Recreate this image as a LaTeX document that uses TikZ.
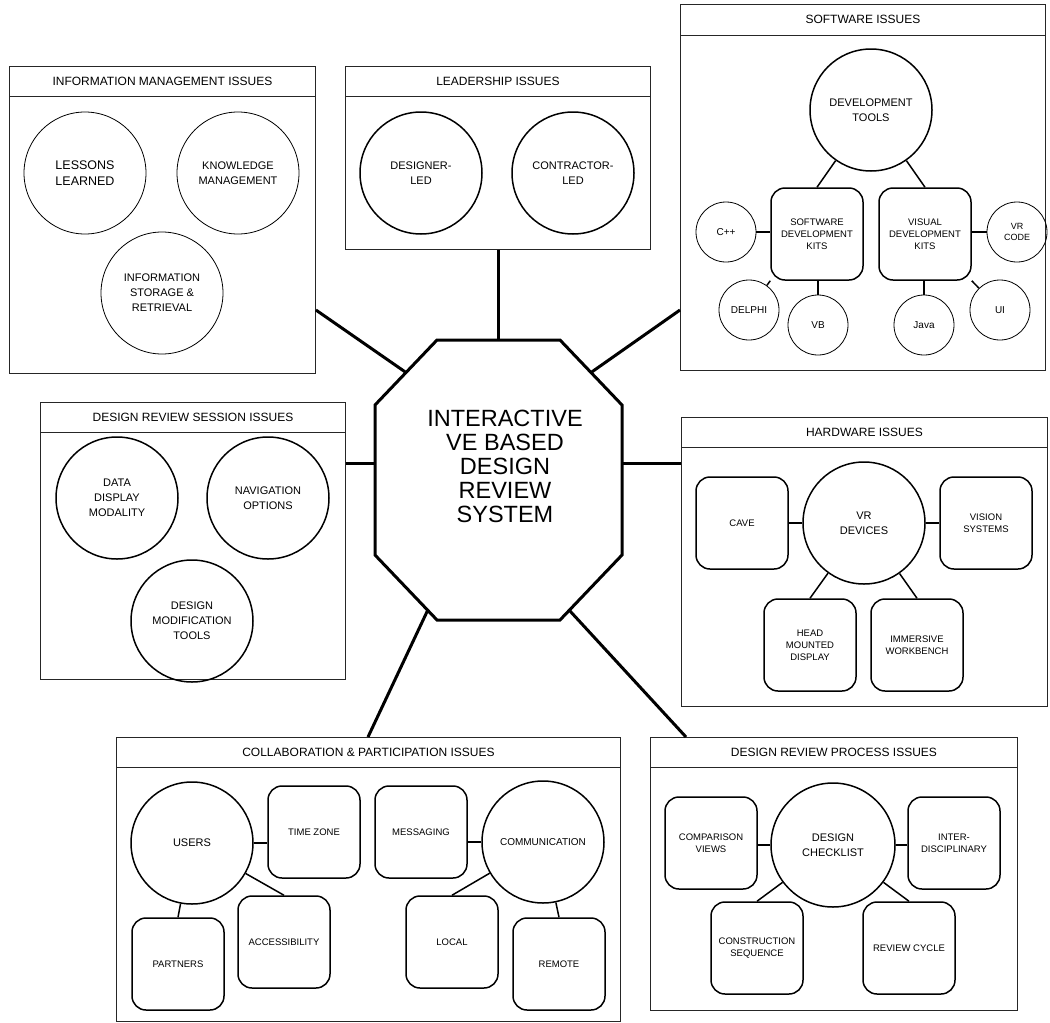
\documentclass[tikz,border=0pt]{standalone}
\usepackage{fontspec}
\setmainfont{Liberation Sans}
\usetikzlibrary{calc}
\begin{document}
\begin{tikzpicture}[x=1pt,y=-1pt,
  panelbox/.style={draw=black!85, line width=0.9pt, anchor=north west, inner sep=0pt},
  hdrline/.style={draw=black!85, line width=0.9pt},
  hdr/.style={font=\fontsize{12}{14}\selectfont, inner sep=0pt},
  bub/.style={circle, draw, line width=1.5pt, minimum size=122pt, inner sep=0pt, align=center, font=\fontsize{11}{15}\selectfont},
  thinbub/.style={bub, line width=0.8pt},
  smallbub/.style={circle, draw, line width=0.8pt, minimum size=60pt, inner sep=0pt, align=center, font=\fontsize{10}{12}\selectfont},
  rbox/.style={draw, rounded corners=14pt, line width=1.5pt, minimum width=92pt, minimum height=92pt, inner sep=2pt, align=center, font=\fontsize{9.5}{12}\selectfont},
  link/.style={line width=1.5pt},
  spoke/.style={line width=3pt}]

\useasboundingbox[fill=white] (0,0) rectangle (1050,1023);

% ---------- central octagon ----------
\coordinate (A) at (437,340);
\coordinate (B) at (560,340);
\coordinate (C) at (622,405);
\coordinate (D) at (622,555);
\coordinate (E) at (560,620);
\coordinate (F) at (437,620);
\coordinate (G) at (375,555);
\coordinate (H) at (375,405);
\draw[line width=3pt, line join=miter] (A) -- (B) -- (C) -- (D) -- (E) -- (F) -- (G) -- (H) -- cycle;
\node[align=center, font=\fontsize{23.5}{24}\selectfont, inner sep=0pt] (hub) at (505,466)
  {INTERACTIVE\\VE BASED\\DESIGN\\REVIEW\\SYSTEM};

\coordinate (o1) at ($(H)!0.5!(A)$);
\coordinate (o2) at ($(A)!0.5!(B)$);
\coordinate (o3) at ($(B)!0.5!(C)$);
\coordinate (o4) at (375,463);
\coordinate (o5) at (622,463);
\coordinate (o6) at ($(G)!0.85!(F)$);
\coordinate (o7) at ($(D)!0.85!(E)$);

% ---------- panel 1: information management ----------
\node[panelbox, minimum width=306pt, minimum height=307pt] (p1) at (9,66) {};
\draw[hdrline] ($(p1.north west)+(0,30)$) -- ($(p1.north east)+(0,30)$);
\node[hdr] (p1t) at ($(p1.north)+(0,15)$) {INFORMATION MANAGEMENT ISSUES};
\node[thinbub, font=\fontsize{12.5}{16}\selectfont] (les) at (85,173) {LESSONS\\LEARNED};
\node[thinbub] (know) at (238,173) {KNOWLEDGE\\MANAGEMENT};
\node[thinbub] (stor) at (162,293) {INFORMATION\\STORAGE \&\\RETRIEVAL};

% ---------- panel 2: leadership ----------
\node[panelbox, minimum width=305pt, minimum height=183pt] (p2) at (345,66) {};
\draw[hdrline] ($(p2.north west)+(0,30)$) -- ($(p2.north east)+(0,30)$);
\node[hdr] (p2t) at ($(p2.north)+(0,15)$) {LEADERSHIP ISSUES};
\node[bub] (dled) at (421,173) {DESIGNER-\\LED};
\node[bub] (cled) at (573,173) {CONTRACTOR-\\LED};

% ---------- panel 3: software ----------
\node[panelbox, minimum width=365pt, minimum height=366pt] (p3) at (680,4) {};
\draw[hdrline] ($(p3.north west)+(0,31)$) -- ($(p3.north east)+(0,31)$);
\node[hdr] (p3t) at ($(p3.north)+(0,15)$) {SOFTWARE ISSUES};
\node[bub] (dev) at (871,110) {DEVELOPMENT\\TOOLS};
\node[rbox] (sdk) at (817,234) {SOFTWARE\\DEVELOPMENT\\KITS};
\node[rbox] (vdk) at (925,234) {VISUAL\\DEVELOPMENT\\KITS};
\node[smallbub] (cpp) at (726,232) {C++};
\node[smallbub] (delphi) at (749,310) {DELPHI};
\node[smallbub] (vb) at (818,325) {VB};
\node[smallbub] (java) at (924,325) {Java};
\node[smallbub] (ui) at (1000,310) {UI};
\node[smallbub, font=\fontsize{9}{11}\selectfont] (vrc) at (1017,232) {VR\\CODE};
\draw[link] (dev) -- (sdk.north);
\draw[link] (dev) -- (vdk.north);
\draw[link] (cpp.east) -- (cpp.east -| sdk.west);
\draw[link] (delphi) -- (sdk.south west);
\draw[link] (vb) -- (vb |- sdk.south);
\draw[link] (java) -- (java |- vdk.south);
\draw[link] (ui) -- (vdk.south east);
\draw[link] (vrc.west) -- (vrc.west -| vdk.east);

% ---------- panel 4: design review session ----------
\node[panelbox, minimum width=305pt, minimum height=277pt] (p4) at (40,402) {};
\draw[hdrline] ($(p4.north west)+(0,30)$) -- ($(p4.north east)+(0,30)$);
\node[hdr] (p4t) at ($(p4.north)+(0,15)$) {DESIGN REVIEW SESSION ISSUES};
\node[bub] (disp) at (117,498) {DATA\\DISPLAY\\MODALITY};
\node[bub] (nav) at (268,498) {NAVIGATION\\OPTIONS};
\node[bub] (mod) at (192,621) {DESIGN\\MODIFICATION\\TOOLS};

% ---------- panel 5: hardware ----------
\node[panelbox, minimum width=366pt, minimum height=289pt] (p5) at (681,417) {};
\draw[hdrline] ($(p5.north west)+(0,30)$) -- ($(p5.north east)+(0,30)$);
\node[hdr] (p5t) at ($(p5.north)+(0,15)$) {HARDWARE ISSUES};
\node[bub] (vrd) at (864,523) {VR\\DEVICES};
\node[rbox] (cave) at (742,523) {CAVE};
\node[rbox] (vis) at (986,523) {VISION\\SYSTEMS};
\node[rbox] (hmd) at (810,645) {HEAD\\MOUNTED\\DISPLAY};
\node[rbox] (wb) at (917,645) {IMMERSIVE\\WORKBENCH};
\draw[link] (vrd.west) -- (vrd.west -| cave.east);
\draw[link] (vrd.east) -- (vrd.east -| vis.west);
\draw[link] (vrd) -- (hmd.north);
\draw[link] (vrd) -- (wb.north);

% ---------- panel 6: collaboration ----------
\node[panelbox, minimum width=504pt, minimum height=284pt] (p6) at (116,737) {};
\draw[hdrline] ($(p6.north west)+(0,30)$) -- ($(p6.north east)+(0,30)$);
\node[hdr] (p6t) at ($(p6.north)+(0,15)$) {COLLABORATION \& PARTICIPATION ISSUES};
\node[bub] (users) at (192,843) {USERS};
\node[rbox] (tz) at (314,832) {TIME ZONE};
\node[rbox] (acc) at (284,942) {ACCESSIBILITY};
\node[rbox] (part) at (178,964) {PARTNERS};
\node[bub, font=\fontsize{10}{12}\selectfont] (comm) at (543,842) {COMMUNICATION};
\node[rbox] (msg) at (421,832) {MESSAGING};
\node[rbox] (loc) at (452,942) {LOCAL};
\node[rbox] (rem) at (559,964) {REMOTE};
\draw[link] (users.east) -- (users.east -| tz.west);
\draw[link] (users) -- (acc.north);
\draw[link] (users) -- (part.north);
\draw[link] (comm.west) -- (comm.west -| msg.east);
\draw[link] (comm) -- (loc.north);
\draw[link] (comm) -- (rem.north);

% ---------- panel 7: design review process ----------
\node[panelbox, minimum width=367pt, minimum height=273pt] (p7) at (650,737) {};
\draw[hdrline] ($(p7.north west)+(0,30)$) -- ($(p7.north east)+(0,30)$);
\node[hdr] (p7t) at ($(p7.north)+(0,15)$) {DESIGN REVIEW PROCESS ISSUES};
\node[bub, minimum size=124pt] (chk) at (833,845) {DESIGN\\CHECKLIST};
\node[rbox] (cmp) at (711,843) {COMPARISON\\VIEWS};
\node[rbox] (inter) at (954,843) {INTER-\\DISCIPLINARY};
\node[rbox] (cons) at (757,948) {CONSTRUCTION\\SEQUENCE};
\node[rbox] (rev) at (909,948) {REVIEW CYCLE};
\draw[link] (chk.west) -- (chk.west -| cmp.east);
\draw[link] (chk.east) -- (chk.east -| inter.west);
\draw[link] (chk) -- (cons.north);
\draw[link] (chk) -- (rev.north);

% ---------- spokes ----------
\draw[spoke] ($(p1.north east)+(0,244)$) -- (o1);
\draw[spoke] (p2.south -| o2) -- (o2);
\draw[spoke] ($(p3.north west)+(0,306)$) -- (o3);
\draw[spoke] (p4.east |- o4) -- (o4);
\draw[spoke] (p5.west |- o5) -- (o5);
\draw[spoke] ($(p6.north west)+(252,0)$) -- (o6);
\draw[spoke] ($(p7.north west)+(36,0)$) -- (o7);
\end{tikzpicture}
\end{document}
